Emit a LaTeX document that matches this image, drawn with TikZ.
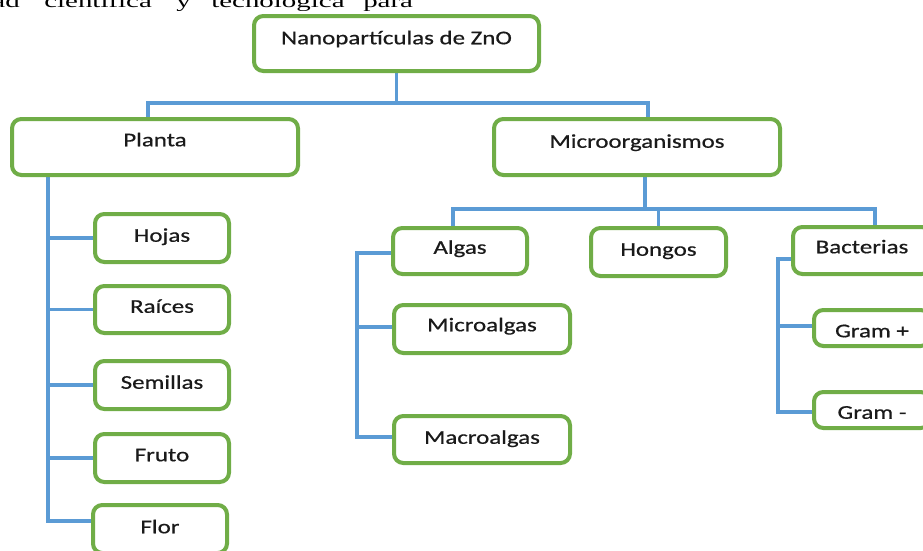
\documentclass[tikz,border=0pt]{standalone}
\usepackage{fontspec}
\usetikzlibrary{calc}
\newfontfamily\boxfont[FakeStretch=1.28,FakeBold=0.6]{Carlito}
\newfontfamily\topfont[FakeStretch=1.55]{Liberation Serif}
\definecolor{bgreen}{HTML}{70AD47}
\definecolor{lblue}{HTML}{5B9BD5}
\definecolor{txt}{HTML}{1A1A1A}
\pgfdeclarelayer{bg}
\pgfsetlayers{bg,main}
\begin{document}
\begin{tikzpicture}[x=0.75pt,y=-0.75pt,
  box/.style={draw=bgreen, line width=3pt, rounded corners=7pt, fill=white,
    font=\boxfont\fontsize{14.6}{17}\selectfont, text=txt, text height=9.4pt,
    inner sep=0pt, align=center},
  conn/.style={draw=lblue, line width=2.4pt},
  topw/.style={font=\topfont\fontsize{14}{16}\selectfont, inner sep=0pt, anchor=base west, text=black}]
\useasboundingbox (0,0) rectangle (923,550);
\clip (0,0) rectangle (923,550);

% top cut-off text
\node[topw, anchor=base east] (w1) at (20,7) {ad};
\node[topw] (w2) at (44,7) {científica};
\node[topw] (w3) at (176,7) {y};
\node[topw] (w4) at (211,7) {tecnológica};
\node[topw] (w5) at (363,7) {para};

% boxes
\node[box, minimum width=213.75pt, minimum height=41.25pt, text depth=8.25pt] (nano) at (396.5,43.5) {Nanopartículas de ZnO};
\node[box, minimum width=214.5pt, minimum height=42pt, text depth=10.5pt] (planta) at (155,147) {Planta};
\node[box, minimum width=214.5pt, minimum height=42pt, text depth=8.25pt] (micro) at (637,147) {Microorganismos};

\node[box, minimum width=100.5pt, minimum height=36pt, text depth=3.75pt] (hojas) at (162,238) {Hojas};
\node[box, minimum width=100.5pt, minimum height=35.25pt, text depth=4.5pt] (raices) at (162,309.5) {Raíces};
\node[box, minimum width=100.5pt, minimum height=36pt, text depth=3.75pt] (semillas) at (162,385) {Semillas};
\node[box, minimum width=100.5pt, minimum height=36pt, text depth=4.5pt] (fruto) at (162,458) {Fruto};
\node[box, minimum width=100.5pt, minimum height=36pt, text depth=3pt] (flor) at (160,529) {Flor};

\node[box, minimum width=100.5pt, minimum height=34.5pt, text depth=5.25pt] (algas) at (460,251) {Algas};
\node[box, minimum width=101.25pt, minimum height=36pt, text depth=3.75pt] (hongos) at (658.5,252) {Hongos};
\node[box, minimum width=103.5pt, minimum height=35.25pt, text depth=5.25pt] (bacterias) at (862,250.5) {Bacterias};
\node[box, minimum width=132pt, minimum height=36pt, text depth=6pt] (microalgas) at (482,329) {Microalgas};
\node[box, minimum width=132pt, minimum height=35.25pt, text depth=3pt] (macroalgas) at (482,439.5) {Macroalgas};
\node[box, minimum width=87pt, minimum height=27pt, text height=13.9pt, text depth=0pt] (gramp) at (872,328) {Gram +};
\node[box, minimum width=87pt, minimum height=27pt, text height=13.15pt, text depth=0pt] (gramm) at (872,410) {Gram -};

% connectors
\begin{pgfonlayer}{bg}
  % root
  \coordinate (j1) at ($(nano.south)+(0,30)$);
  \draw[conn] (nano.south) -- (j1);
  \draw[conn] ($(planta.north)+(-7,0)$) |- (j1) -| ($(micro.north)+(11,0)$);
  % microorganismos
  \coordinate (j2) at ($(micro.south)+(8,32)$);
  \draw[conn] ($(micro.south)+(8,0)$) -- (j2);
  \draw[conn] ($(algas.north)+(-7,0)$) |- (j2) -| ($(bacterias.north)+(13,0)$);
  \draw[conn] (hongos.north |- j2) -- (hongos.north);
  % planta
  \coordinate (ps) at ($(planta.south)+(-107,0)$);
  \draw[conn] (ps) |- ($(flor.west)+(0,-8)$);
  \draw[conn] (ps |- hojas.west) -- (hojas.west);
  \draw[conn] (ps |- raices.west) -- (raices.west);
  \draw[conn] (ps |- semillas.west) -- (semillas.west);
  \draw[conn] (ps |- fruto.west) -- (fruto.west);
  % algas
  \coordinate (as) at ($(algas.west)+(-34,2)$);
  \draw[conn] ($(algas.west)+(0,2)$) -- (as) |- ($(macroalgas.west)+(0,-2.5)$);
  \draw[conn] ($(as |- microalgas.west)+(0,-2)$) -- ($(microalgas.west)+(0,-2)$);
  % bacterias
  \coordinate (bs) at ($(bacterias.west)+(-13,8.5)$);
  \draw[conn] ($(bacterias.west)+(0,8.5)$) -- (bs) |- ($(gramm.west)+(0,2)$);
  \draw[conn] ($(bs |- gramp.west)+(0,-2)$) -- ($(gramp.west)+(0,-2)$);
\end{pgfonlayer}
\end{tikzpicture}
\end{document}
